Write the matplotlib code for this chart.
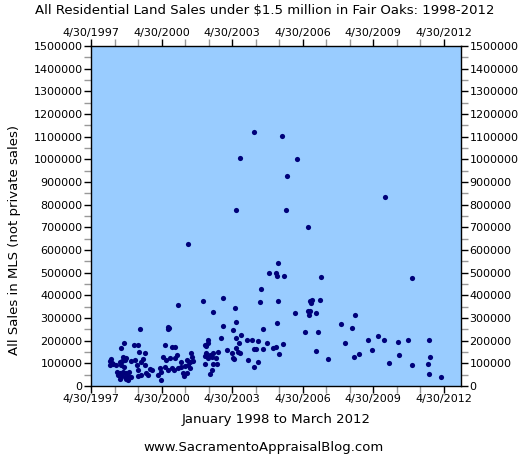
import datetime as dt
import matplotlib
matplotlib.use("Agg")
import matplotlib.pyplot as plt
import matplotlib.dates as mdates
from matplotlib.ticker import MultipleLocator, FuncFormatter, FixedLocator

# sale date (decimal year) and sale price in $1000
years = [
    1998.12, 1998.19, 1998.22, 1998.15, 1998.25, 1998.40, 1998.45, 1998.55, 1998.55, 1998.55,
    1998.59, 1998.62, 1998.69, 1998.69, 1998.73, 1998.76, 1998.76, 1998.83, 1998.90, 1998.90,
    1998.65, 1998.80, 1998.48, 1998.95, 1998.60, 1998.72, 1998.66, 1998.80,
    1999.04, 1999.04, 1999.16, 1999.18, 1999.30, 1999.33, 1999.33, 1999.33, 1999.36, 1999.43,
    1999.44, 1999.47, 1999.54, 1999.61, 1999.64, 1999.68, 1999.75, 1999.82, 1999.91,
    2000.18, 2000.25, 2000.32, 2000.32, 2000.39, 2000.46, 2000.49, 2000.53, 2000.58, 2000.62,
    2000.66, 2000.60, 2000.68, 2000.75, 2000.75, 2000.86, 2000.89, 2000.89,
    2001.00, 2001.02, 2001.03, 2001.17, 2001.17, 2001.24, 2001.29, 2001.31, 2001.39, 2001.39,
    2001.44, 2001.46, 2001.53, 2001.53, 2001.56, 2001.60, 2001.67,
    2002.10, 2002.16, 2002.20, 2002.16, 2002.16, 2002.23, 2002.31, 2002.31, 2002.31, 2002.38,
    2002.38, 2002.45, 2002.49, 2002.52, 2002.52, 2002.52, 2002.63, 2002.69, 2002.73, 2002.86,
    2002.92, 2002.94,
    2003.09, 2003.30, 2003.37, 2003.37, 2003.40, 2003.46, 2003.48, 2003.49, 2003.51, 2003.51,
    2003.58, 2003.63, 2003.65, 2003.67, 2003.70, 2003.94,
    2004.01, 2004.18, 2004.25, 2004.25, 2004.27, 2004.36, 2004.41, 2004.44, 2004.51, 2004.56,
    2004.65, 2004.65, 2004.82, 2004.90,
    2005.08, 2005.19, 2005.19, 2005.23, 2005.25, 2005.29, 2005.29, 2005.33, 2005.43, 2005.50,
    2005.54, 2005.62, 2005.65,
    2006.01, 2006.07, 2006.44, 2006.55, 2006.57, 2006.60, 2006.62, 2006.64, 2006.69, 2006.72,
    2006.91, 2006.91, 2006.97,
    2007.08, 2007.11, 2007.38, 2007.95,
    2008.11, 2008.41, 2008.49, 2008.53, 2008.73,
    2009.10, 2009.26, 2009.53, 2009.77, 2009.83, 2009.98,
    2010.38, 2010.41, 2010.82, 2010.95, 2010.96,
    2011.63, 2011.69, 2011.69, 2011.73, 2012.21,
]
prices_k = [
    112, 120, 103, 94, 97, 93, 63, 107, 59, 29,
    166, 44, 129, 63, 191, 115, 38, 56, 44, 26,
    52, 33, 48, 62, 93, 85, 110, 125,
    112, 38, 181, 115, 93, 181, 71, 44, 151, 251,
    49, 107, 118, 93, 144, 59, 49, 74, 70,
    49, 78, 63, 26, 126, 85, 181, 115, 262, 252,
    257, 71, 122, 174, 78, 71, 171, 122,
    137, 359, 78, 107, 82, 56, 44, 88, 115, 59,
    626, 93, 107, 78, 147, 129, 112,
    375, 181, 144, 132, 96, 176, 203, 188, 122, 137,
    53, 71, 129, 144, 97, 326, 122, 97, 151, 210,
    265, 387,
    159, 144, 122, 247, 118, 344, 282, 775, 210, 166,
    151, 188, 144, 1005, 225, 203,
    115, 203, 165, 82, 1120, 162, 200, 104, 372, 426,
    251, 162, 188, 500,
    166, 174, 500, 279, 485, 544, 375, 140, 1102, 185,
    485, 775, 925,
    321, 1000, 240, 330, 700, 312, 374, 331, 365, 380,
    321, 156, 240,
    378, 482, 121, 272,
    191, 255, 127, 315, 140,
    202, 159, 219, 202, 835, 102,
    194, 135, 202, 475, 91,
    99, 202, 52, 129, 40,
]

tick_years = [1997, 2000, 2003, 2006, 2009, 2012]
minor_years = list(range(1997, 2013))


def year_to_date(y):
    start = dt.datetime(int(y), 1, 1)
    end = dt.datetime(int(y) + 1, 1, 1)
    return start + (end - start) * (y - int(y))


dates = [year_to_date(y) for y in years]
prices = [p * 1000 for p in prices_k]

fig = plt.figure(figsize=(5.3, 4.55), dpi=100)
ax = fig.add_axes([91 / 530, 1 - 386 / 455, 370 / 530, 340 / 455])
ax.set_facecolor('#99CCFF')

ax.scatter(mdates.date2num(dates), prices, s=14, color='#00007A', zorder=3, linewidths=0)

ax.set_xlim(mdates.date2num(dt.datetime(1997, 4, 30)), mdates.date2num(dt.datetime(2013, 1, 20)))
ax.set_ylim(0, 1500000)

ax.xaxis.set_major_locator(FixedLocator([mdates.date2num(dt.datetime(y, 4, 30)) for y in tick_years]))
ax.xaxis.set_minor_locator(FixedLocator([mdates.date2num(dt.datetime(y, 4, 30)) for y in minor_years]))
ax.xaxis.set_major_formatter(FuncFormatter(
    lambda v, pos: (lambda d: f"{d.month}/{d.day}/{d.year}")(mdates.num2date(v))))

ax.yaxis.set_major_locator(MultipleLocator(100000))
ax.yaxis.set_minor_locator(MultipleLocator(50000))
ax.yaxis.set_major_formatter(FuncFormatter(lambda v, pos: f"{int(round(v))}"))

ax.tick_params(which='both', direction='out', top=True, right=True,
               labeltop=True, labelright=True, labelsize=8, pad=1)
ax.tick_params(which='major', length=5, width=1, color='black')
ax.tick_params(which='minor', length=5, width=1, color='#999999')
for s in ax.spines.values():
    s.set_linewidth(1)
    s.set_color('black')

fig.text(0.5, 1 - 11 / 455, "All Residential Land Sales under $1.5 million in Fair Oaks: 1998-2012",
         ha='center', va='center', fontsize=9.5)
fig.text(276 / 530, 1 - 419 / 455, "January 1998 to March 2012", ha='center', va='center', fontsize=9.5)
fig.text(264 / 530, 1 - 447 / 455, "www.SacramentoAppraisalBlog.com", ha='center', va='center', fontsize=9.5)
fig.text(15 / 530, 1 - 240 / 455, "All Sales in MLS (not private sales)", ha='center', va='center',
         rotation=90, fontsize=9.5)

fig.savefig('out.png', dpi=100, facecolor='white')
